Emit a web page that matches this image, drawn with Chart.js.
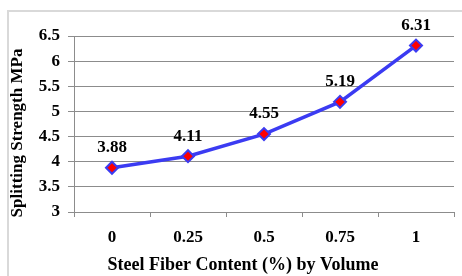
<!DOCTYPE html>
<html lang="en">
<head>
  <meta charset="UTF-8">
  <title>Splitting Strength</title>
  <script src="https://cdn.jsdelivr.net/npm/chart.js"></script>
  <style>
    html, body { margin: 0; padding: 0; background: #fff; }
    #wrap { width: 462px; height: 276px; }
  </style>
</head>
<body>
  <div id="wrap"><canvas id="strengthChart" width="462" height="276"></canvas></div>

  <script>
    const fiberContent = ["0", "0.25", "0.5", "0.75", "1"];
    const splittingStrength = [3.88, 4.11, 4.55, 5.19, 6.31];
    const valueLabels = ["3.88", "4.11", "4.55", "5.19", "6.31"];
    const xTitle = "Steel Fiber Content (%) by Volume";
    const yTitle = "Splitting Strength MPa";

    const serif = "'Liberation Serif', 'Times New Roman', serif";

    // frame + axis titles + value labels
    const extras = {
      id: "extras",
      beforeDraw(chart) {
        const ctx = chart.ctx;
        ctx.save();
        ctx.strokeStyle = "#d9d9d9";
        ctx.lineWidth = 2;
        ctx.beginPath();
        ctx.moveTo(8, 276);
        ctx.lineTo(8, 11);
        ctx.lineTo(462, 11);
        ctx.stroke();
        ctx.restore();
      },
      afterDatasetsDraw(chart) {
        const ctx = chart.ctx;
        const meta = chart.getDatasetMeta(0);
        ctx.save();
        ctx.fillStyle = "#000";
        ctx.font = "bold 17px " + serif;
        ctx.textAlign = "center";
        ctx.textBaseline = "middle";
        meta.data.forEach((pt, i) => {
          ctx.fillText(valueLabels[i], pt.x, pt.y - 20);
        });

        ctx.font = "bold 18px " + serif;
        ctx.fillText(xTitle, 243, 265);

        ctx.font = "bold 17px " + serif;
        ctx.translate(18, 133);
        ctx.rotate(-Math.PI / 2);
        ctx.fillText(yTitle, 0, 0);
        ctx.restore();
      }
    };

    new Chart(document.getElementById("strengthChart").getContext("2d"), {
      type: "line",
      data: {
        labels: fiberContent,
        datasets: [{
          data: splittingStrength,
          borderColor: "#3b3bf2",
          borderWidth: 3.5,
          tension: 0,
          pointStyle: "rectRot",
          pointRadius: 6,
          pointBackgroundColor: "#ff0000",
          pointBorderColor: "#3b3bf2",
          pointBorderWidth: 2,
          pointHoverRadius: 6
        }]
      },
      options: {
        responsive: false,
        animation: false,
        events: [],
        layout: { padding: { left: 0, top: 36, right: 4, bottom: 0 } },
        plugins: {
          legend: { display: false },
          tooltip: { enabled: false }
        },
        scales: {
          x: {
            offset: true,
            grid: { offset: true, drawOnChartArea: false, color: "#8c8c8c", tickLength: 5 },
            border: { color: "#8c8c8c", width: 1 },
            ticks: { color: "#000", padding: 10, font: { family: serif, size: 17, weight: "bold" } },
            afterFit(scale) { scale.height = 64; }
          },
          y: {
            min: 3,
            max: 6.5,
            ticks: {
              stepSize: 0.5,
              color: "#000",
              padding: 8,
              font: { family: serif, size: 17, weight: "bold" },
              callback: v => String(v)
            },
            grid: { color: "#8c8c8c", tickLength: 6 },
            border: { color: "#8c8c8c", width: 1 },
            afterFit(scale) { scale.width = 74; }
          }
        }
      },
      plugins: [extras]
    });
  </script>
</body>
</html>
